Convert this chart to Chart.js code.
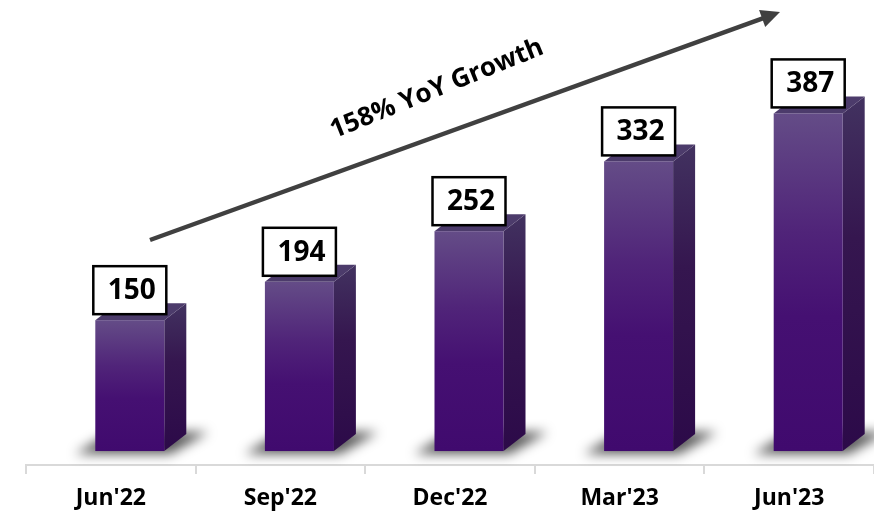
<!DOCTYPE html>
<html>
<head>
<meta charset="utf-8">
<script src="https://cdn.jsdelivr.net/npm/chart.js@4.4.0/dist/chart.umd.min.js"></script>
<style>
  html, body { margin: 0; padding: 0; background: #fff; }
  #wrap { width: 874px; height: 515px; }
</style>
</head>
<body>
<div id="wrap"><canvas id="myChart"></canvas></div>
<script>
// data
const quarters = ["Jun'22", "Sep'22", "Dec'22", "Mar'23", "Jun'23"];
const counts = [150, 194, 252, 332, 387];
const growthText = '158% YoY Growth';

// depth of the fake 3d box
const DX = 22, DY = 17, SHIFT = 19;

// draws the 3d boxes, floor shadows and value boxes from the bar elements
const bars3d = {
    id: 'bars3d',
    beforeDatasetsDraw(chart) {
        const ctx = chart.ctx;
        const meta = chart.getDatasetMeta(0);
        meta.data.forEach((bar, i) => {
            const w = bar.width;
            const left = bar.x + SHIFT - w / 2;
            const right = bar.x + SHIFT + w / 2;
            const top = bar.y;
            const base = bar.base;

            // floor shadow
            ctx.save();
            ctx.filter = 'blur(6px)';
            ctx.fillStyle = 'rgba(0,0,0,0.65)';
            ctx.beginPath();
            ctx.moveTo(left - 20, base + 3);
            ctx.lineTo(right + 6, base + 3);
            ctx.lineTo(right + DX + 22, base - DY - 2);
            ctx.lineTo(left + DX - 6, base - DY - 2);
            ctx.closePath();
            ctx.fill();
            ctx.restore();

            // side
            let g = ctx.createLinearGradient(0, top - DY, 0, base);
            g.addColorStop(0, '#423260');
            g.addColorStop(0.4, '#35164f');
            g.addColorStop(1, '#2c0a49');
            ctx.fillStyle = g;
            ctx.beginPath();
            ctx.moveTo(right, top);
            ctx.lineTo(right + DX, top - DY);
            ctx.lineTo(right + DX, base - DY);
            ctx.lineTo(right, base);
            ctx.closePath();
            ctx.fill();

            // top
            ctx.fillStyle = '#4c3b6b';
            ctx.beginPath();
            ctx.moveTo(left, top);
            ctx.lineTo(right, top);
            ctx.lineTo(right + DX, top - DY);
            ctx.lineTo(left + DX, top - DY);
            ctx.closePath();
            ctx.fill();

            // front
            g = ctx.createLinearGradient(0, top, 0, base);
            g.addColorStop(0, '#644c87');
            g.addColorStop(0.35, '#502479');
            g.addColorStop(0.6, '#451072');
            g.addColorStop(1, '#400a6e');
            ctx.fillStyle = g;
            ctx.fillRect(left, top, w, base - top);

            // value box
            const bx = left - 2, bw = w + 4, bh = 48, by = top - 6 - bh;
            ctx.fillStyle = '#fff';
            ctx.fillRect(bx, by, bw, bh);
            ctx.lineWidth = 2.5;
            ctx.strokeStyle = '#000';
            ctx.strokeRect(bx, by, bw, bh);
            ctx.fillStyle = '#000';
            ctx.font = 'bold 28px "Open Sans"';
            ctx.textAlign = 'center';
            ctx.textBaseline = 'middle';
            ctx.fillText(counts[i], bx + bw / 2 + 2, by + bh / 2 + 1);
        });
    }
};

// growth arrow and its caption
const growthArrow = {
    id: 'growthArrow',
    afterDraw(chart) {
        const ctx = chart.ctx;
        const x0 = 150, y0 = 240, x1 = 780, y1 = 12;
        const ang = Math.atan2(y1 - y0, x1 - x0);
        ctx.save();
        ctx.strokeStyle = '#404040';
        ctx.fillStyle = '#404040';
        ctx.lineWidth = 4.5;
        ctx.beginPath();
        ctx.moveTo(x0, y0);
        ctx.lineTo(x1 - 14 * Math.cos(ang), y1 - 14 * Math.sin(ang));
        ctx.stroke();
        ctx.translate(x1, y1);
        ctx.rotate(ang);
        ctx.beginPath();
        ctx.moveTo(0, 0);
        ctx.lineTo(-19, -9);
        ctx.lineTo(-19, 9);
        ctx.closePath();
        ctx.fill();
        ctx.restore();

        ctx.save();
        ctx.translate(437, 89);
        ctx.rotate(-22 * Math.PI / 180);
        ctx.fillStyle = '#000';
        ctx.font = 'bold 26px "Open Sans"';
        ctx.textAlign = 'center';
        ctx.textBaseline = 'middle';
        ctx.fillText(growthText, 0, 0);
        ctx.restore();
    }
};

const ctx = document.getElementById('myChart').getContext('2d');
window.myChart = new Chart(ctx, {
    type: 'bar',
    data: {
        labels: quarters,
        datasets: [{
            data: counts,
            backgroundColor: 'rgba(0,0,0,0)',
            barThickness: 69,
        }],
    },
    options: {
        responsive: true,
        maintainAspectRatio: false,
        animation: false,
        devicePixelRatio: 1,
        layout: { padding: { left: 26, right: 0, top: 0, bottom: 0 } },
        plugins: {
            legend: { display: false },
            tooltip: { enabled: false },
        },
        scales: {
            x: {
                offset: true,
                afterFit(scale) { scale.height = 50; },
                grid: {
                    offset: true,
                    drawOnChartArea: false,
                    drawTicks: true,
                    tickLength: 9,
                    color: '#d9d9d9',
                    lineWidth: 2,
                },
                border: { color: '#d9d9d9', width: 2 },
                ticks: {
                    color: '#000',
                    padding: 11,
                    font: { family: '"Open Sans"', size: 23, weight: 'bold' },
                },
            },
            y: {
                display: false,
                min: -16,
                max: 517,
            },
        },
    },
    plugins: [bars3d, growthArrow],
});
</script>
</body>
</html>
